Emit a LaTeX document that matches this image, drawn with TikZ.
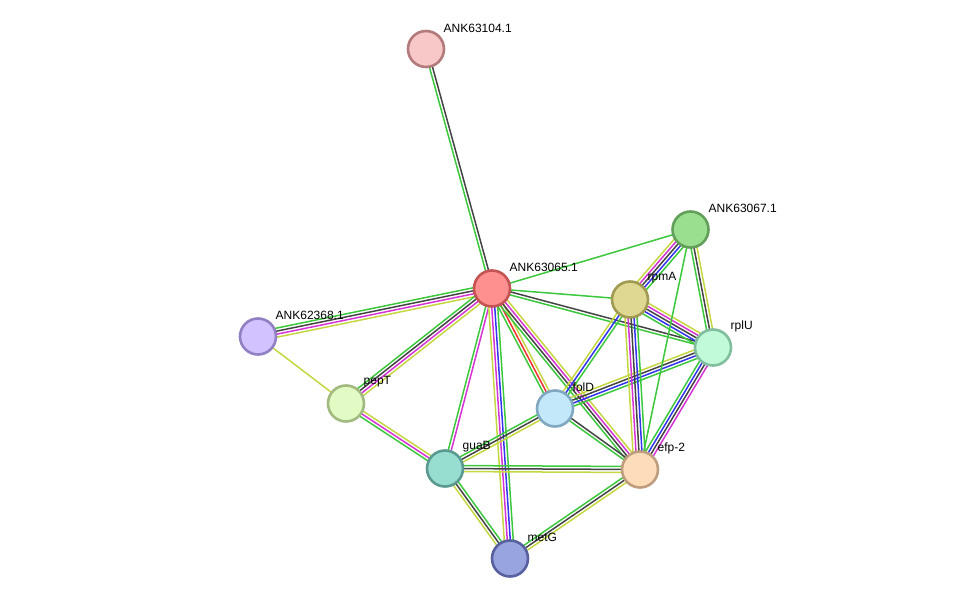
\documentclass[tikz,border=0pt]{standalone}
\usepackage{fontspec}
\setmainfont{Liberation Sans}
\usetikzlibrary{calc}
\pgfdeclarelayer{background}
\pgfsetlayers{background,main}
\definecolor{sgreen}{HTML}{3CC83C}
\definecolor{sblack}{HTML}{444444}
\definecolor{smag}{HTML}{D633D6}
\definecolor{syel}{HTML}{C4D640}
\definecolor{sblue}{HTML}{3333F0}
\definecolor{sred}{HTML}{F03030}
\newcommand\ppiedge[3]{%
  \begin{pgfonlayer}{background}
  \foreach \c [count=\i] in {#3} {\xdef\ncount{\i}}
  \foreach \c [count=\i] in {#3} {
    \pgfmathsetmacro\off{(\i-(\ncount+1)/2)*3.0}
    \draw[edgeline, color=\c] ($(#1.center)!\off pt!90:(#2.center)$) -- ($(#2.center)!\off pt!-90:(#1.center)$);
  }
  \end{pgfonlayer}}
\tikzset{
  protein/.style={circle, minimum size=36pt, line width=2.6pt, inner sep=0pt},
  plabel/.style={anchor=west, font=\fontsize{12}{14}\selectfont, inner sep=0.5pt, text=black},
  edgeline/.style={line width=1.5pt}
}
\begin{document}
\begin{tikzpicture}[x=1pt,y=-1pt]
\useasboundingbox (0,0) rectangle (975,604);
% nodes
\node[protein, fill={rgb,255:red,248;green,200;blue,200}, draw={rgb,255:red,178;green,122;blue,122}] (n104) at (426,49) {};
\node[protein, fill={rgb,255:red,255;green,144;blue,144}, draw={rgb,255:red,196;green,84;blue,84}] (n065) at (492,288.5) {};
\node[protein, fill={rgb,255:red,154;green,222;blue,144}, draw={rgb,255:red,98;green,160;blue,90}] (n067) at (690.5,229.5) {};
\node[protein, fill={rgb,255:red,222;green,216;blue,146}, draw={rgb,255:red,160;green,154;blue,82}] (rpmA) at (630,299.5) {};
\node[protein, fill={rgb,255:red,192;green,250;blue,216}, draw={rgb,255:red,128;green,190;blue,158}] (rplU) at (713,347.5) {};
\node[protein, fill={rgb,255:red,210;green,194;blue,255}, draw={rgb,255:red,146;green,128;blue,196}] (n368) at (258,336.5) {};
\node[protein, fill={rgb,255:red,226;green,250;blue,196}, draw={rgb,255:red,162;green,186;blue,128}] (pepT) at (346,403.5) {};
\node[protein, fill={rgb,255:red,194;green,232;blue,250}, draw={rgb,255:red,128;green,168;blue,192}] (folD) at (555,408.5) {};
\node[protein, fill={rgb,255:red,152;green,222;blue,208}, draw={rgb,255:red,90;green,154;blue,144}] (guaB) at (445,468.5) {};
\node[protein, fill={rgb,255:red,253;green,220;blue,186}, draw={rgb,255:red,190;green,158;blue,126}] (efp) at (640,469.5) {};
\node[protein, fill={rgb,255:red,152;green,164;blue,222}, draw={rgb,255:red,88;green,96;blue,160}] (metG) at (510,558.5) {};
% labels
\node[plabel] (l104) at (443,28) {ANK63104.1};
\node[plabel] (l065) at (509,267) {ANK63065.1};
\node[plabel] (l067) at (708,208) {ANK63067.1};
\node[plabel] (lrpmA) at (647,278) {rpmA};
\node[plabel] (lrplU) at (730,326) {rplU};
\node[plabel] (l368) at (275,315) {ANK62368.1};
\node[plabel] (lpepT) at (363,382) {pepT};
\node[plabel] (lfolD) at (572,387) {folD};
\node[plabel] (lguaB) at (462,447) {guaB};
\node[plabel] (lefp) at (657,448) {efp-2};
\node[plabel] (lmetG) at (527,537) {metG};
% edges
\ppiedge{n104}{n065}{sgreen,sblack}
\ppiedge{n065}{n067}{sgreen}
\ppiedge{n065}{rpmA}{sgreen}
\ppiedge{n065}{rplU}{sgreen,sblack}
\ppiedge{n065}{n368}{sgreen,sblack,smag,syel}
\ppiedge{n065}{pepT}{sgreen,sblack,smag,syel}
\ppiedge{n065}{guaB}{sgreen,smag}
\ppiedge{n065}{metG}{syel,smag,sblue,sgreen}
\ppiedge{n065}{folD}{sgreen,sred,syel}
\ppiedge{n065}{efp}{sgreen,sblack,smag,syel}
\ppiedge{n368}{pepT}{syel}
\ppiedge{pepT}{guaB}{sgreen,smag,syel}
\ppiedge{guaB}{folD}{syel,sblack,sgreen}
\ppiedge{guaB}{efp}{syel,sblack,sgreen}
\ppiedge{guaB}{metG}{syel,sblack,sgreen}
\ppiedge{metG}{efp}{syel,sblack,sgreen}
\ppiedge{folD}{efp}{sgreen,sblack}
\ppiedge{folD}{rpmA}{sgreen,sblue,syel}
\ppiedge{folD}{rplU}{sgreen,sblue,sblack,syel}
\ppiedge{rpmA}{n067}{sgreen,sblue,sblack,smag,syel}
\ppiedge{rpmA}{rplU}{sgreen,sblue,sblack,smag,syel}
\ppiedge{rpmA}{efp}{syel,smag,sblack,sblue,sgreen}
\ppiedge{n067}{rplU}{sgreen,sblack,syel}
\ppiedge{n067}{efp}{sgreen}
\ppiedge{rplU}{efp}{sgreen,sblue,sblack,smag}
\end{tikzpicture}
\end{document}
